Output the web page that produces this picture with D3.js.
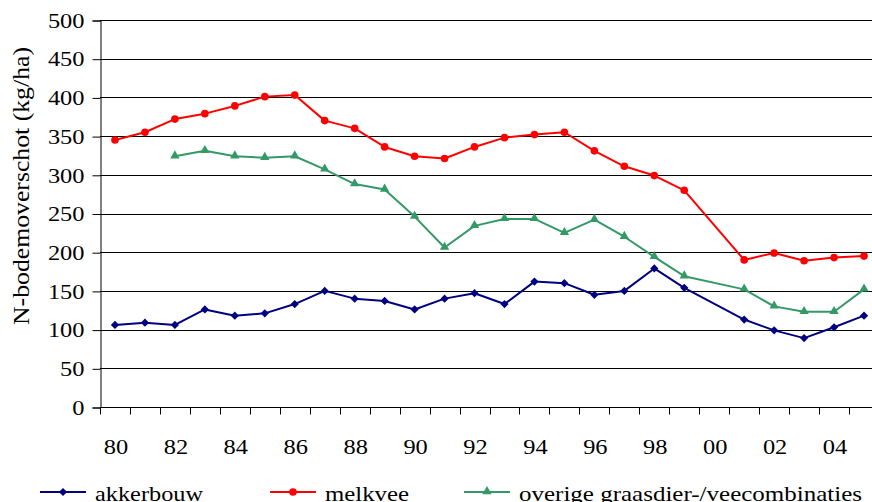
<!DOCTYPE html>
<html>
<head>
<meta charset="utf-8">
<script src="https://cdn.jsdelivr.net/npm/d3@7"></script>
<style>
  html, body { margin: 0; padding: 0; background: #fff; }
  svg { display: block; }
</style>
</head>
<body>
<svg id="chart" width="872" height="502"></svg>
<script>
// Jaren 1980–2005
const years = ["80","81","82","83","84","85","86","87","88","89","90","91","92","93","94","95","96","97","98","99","00","01","02","03","04","05"];
const tickLabels = ["80","82","84","86","88","90","92","94","96","98","00","02","04"];
const yTicks = [0,50,100,150,200,250,300,350,400,450,500];

// N-bodemoverschot (kg/ha) per bedrijfstype; null = geen waarneming
const akkerbouw = [106,109,106,126,118,121,133,150,140,137,126,140,147,133,162,160,145,150,179,154,null,113,99,89,103,118];
const melkvee   = [345,355,372,379,389,401,403,370,360,336,324,321,336,348,352,355,331,311,299,280,null,190,199,189,193,195];
const overige   = [null,null,324,331,324,322,324,307,288,281,246,206,234,243,243,225,242,220,194,169,null,152,130,123,123,152];

const seriesNames = ["akkerbouw","melkvee","overige graasdier-/veecombinaties"];
const seriesColors = ["#000080","#ff0000","#339966"];
const seriesValues = [akkerbouw, melkvee, overige];

// eerste beschikbare schreefletter kiezen
function pickFont(candidates) {
  const ctx = document.createElement("canvas").getContext("2d");
  const probe = "akkerbouw N-bodemoverschot 0123456789";
  for (const f of candidates) {
    ctx.font = `100px '${f}', monospace`;
    const a = ctx.measureText(probe).width;
    ctx.font = `100px '${f}', sans-serif`;
    const b = ctx.measureText(probe).width;
    if (Math.abs(a - b) < 0.5) return `'${f}', serif`;
  }
  return "serif";
}
const FONT = pickFont(["Liberation Serif", "Times New Roman", "DejaVu Serif", "Noto Serif"]);

// tekstbreedte vastleggen zodat de letters even breed lopen
const CHAR_W = 12.2;

// markers: ruit (gedraaid vierkant), cirkel, driehoek
const markerPaths = [
  d3.symbol().type(d3.symbolSquare).size(34)(),
  d3.symbol().type(d3.symbolCircle).size(46)(),
  d3.symbol().type(d3.symbolTriangle).size(38)()
];
const markerRotate = [45, 0, 0];
const markerOffsetY = [0, 0, -0.5];

const svg = d3.select("#chart").style("font-family", FONT);
const plotLeft = 100, plotRight = 879, plotTop = 20, plotBottom = 407;

const x = d3.scaleBand().domain(years).range([plotLeft, plotRight]).padding(0);
const y = d3.scaleLinear().domain([0, 500]).range([plotBottom, plotTop]);
const cx = d => x(d) + x.bandwidth() / 2;

// horizontale rasterlijnen
svg.append("g")
  .selectAll("line")
  .data(yTicks.filter(v => v > 0))
  .join("line")
  .attr("x1", plotLeft).attr("x2", plotRight)
  .attr("y1", d => Math.round(y(d)) + 0.5).attr("y2", d => Math.round(y(d)) + 0.5)
  .attr("stroke", "#000").attr("stroke-width", 1);

// y-as
const yAxis = svg.append("g")
  .attr("transform", `translate(${plotLeft + 0.5},0.5)`)
  .call(d3.axisLeft(y).tickValues(yTicks).tickSize(8).tickPadding(8).tickFormat(d3.format("d")));
yAxis.attr("font-family", null).attr("font-size", null);
yAxis.select(".domain").attr("stroke", "#000");
yAxis.selectAll(".tick line").attr("stroke", "#000");
yAxis.selectAll(".tick text")
  .style("font-family", FONT)
  .style("font-size", "21px")
  .attr("fill", "#000")
  .attr("textLength", d => String(d).length * CHAR_W)
  .attr("lengthAdjust", "spacingAndGlyphs");

// x-as: streepjes op de categoriegrenzen
const xg = svg.append("g").attr("transform", `translate(0,${Math.round(plotBottom) + 0.5})`);
xg.append("line").attr("x1", plotLeft).attr("x2", plotRight).attr("stroke", "#000");
xg.selectAll("line.tk")
  .data(years.concat(["end"]))
  .join("line")
  .attr("class", "tk")
  .attr("x1", (d, i) => Math.round(plotLeft + i * x.bandwidth()) + 0.5)
  .attr("x2", (d, i) => Math.round(plotLeft + i * x.bandwidth()) + 0.5)
  .attr("y1", 0).attr("y2", 7)
  .attr("stroke", "#000");
xg.selectAll("text")
  .data(tickLabels)
  .join("text")
  .attr("x", d => cx(d) + 1)
  .attr("y", 46)
  .attr("text-anchor", "middle")
  .style("font-family", FONT)
  .style("font-size", "21px")
  .attr("textLength", d => d.length * CHAR_W)
  .attr("lengthAdjust", "spacingAndGlyphs")
  .text(d => d);

// titel y-as
svg.append("text")
  .attr("transform", "translate(29,186) rotate(-90)")
  .attr("text-anchor", "middle")
  .style("font-family", FONT)
  .style("font-size", "23px")
  .attr("textLength", 278)
  .attr("lengthAdjust", "spacingAndGlyphs")
  .text("N-bodemoverschot (kg/ha)");

// lijnen en markers
const line = d3.line().x(d => cx(d.year)).y(d => y(d.value));
seriesValues.forEach((vals, i) => {
  const pts = years.map((yr, j) => ({ year: yr, value: vals[j] })).filter(p => p.value != null);
  svg.append("path")
    .datum(pts)
    .attr("d", line)
    .attr("fill", "none")
    .attr("stroke", seriesColors[i])
    .attr("stroke-width", 2)
    .attr("stroke-linejoin", "round");
  svg.append("g")
    .selectAll("path")
    .data(pts)
    .join("path")
    .attr("transform", p => `translate(${cx(p.year)},${y(p.value) + markerOffsetY[i]}) rotate(${markerRotate[i]})`)
    .attr("d", markerPaths[i])
    .attr("fill", seriesColors[i]);
});

// legenda
const legendX = [40, 270, 464];
const legendTextW = [108, 84, 343];
const legend = svg.append("g");
seriesNames.forEach((name, i) => {
  const g = legend.append("g").attr("transform", `translate(${legendX[i]},492)`);
  g.append("line").attr("x1", 0).attr("x2", 46).attr("stroke", seriesColors[i]).attr("stroke-width", 2);
  g.append("path")
    .attr("transform", `translate(23,${markerOffsetY[i]}) rotate(${markerRotate[i]})`)
    .attr("d", markerPaths[i])
    .attr("fill", seriesColors[i]);
  g.append("text")
    .attr("x", 55).attr("y", 9)
    .style("font-family", FONT)
    .style("font-size", "22px")
    .attr("textLength", legendTextW[i])
    .attr("lengthAdjust", "spacingAndGlyphs")
    .text(name);
});
</script>
</body>
</html>
